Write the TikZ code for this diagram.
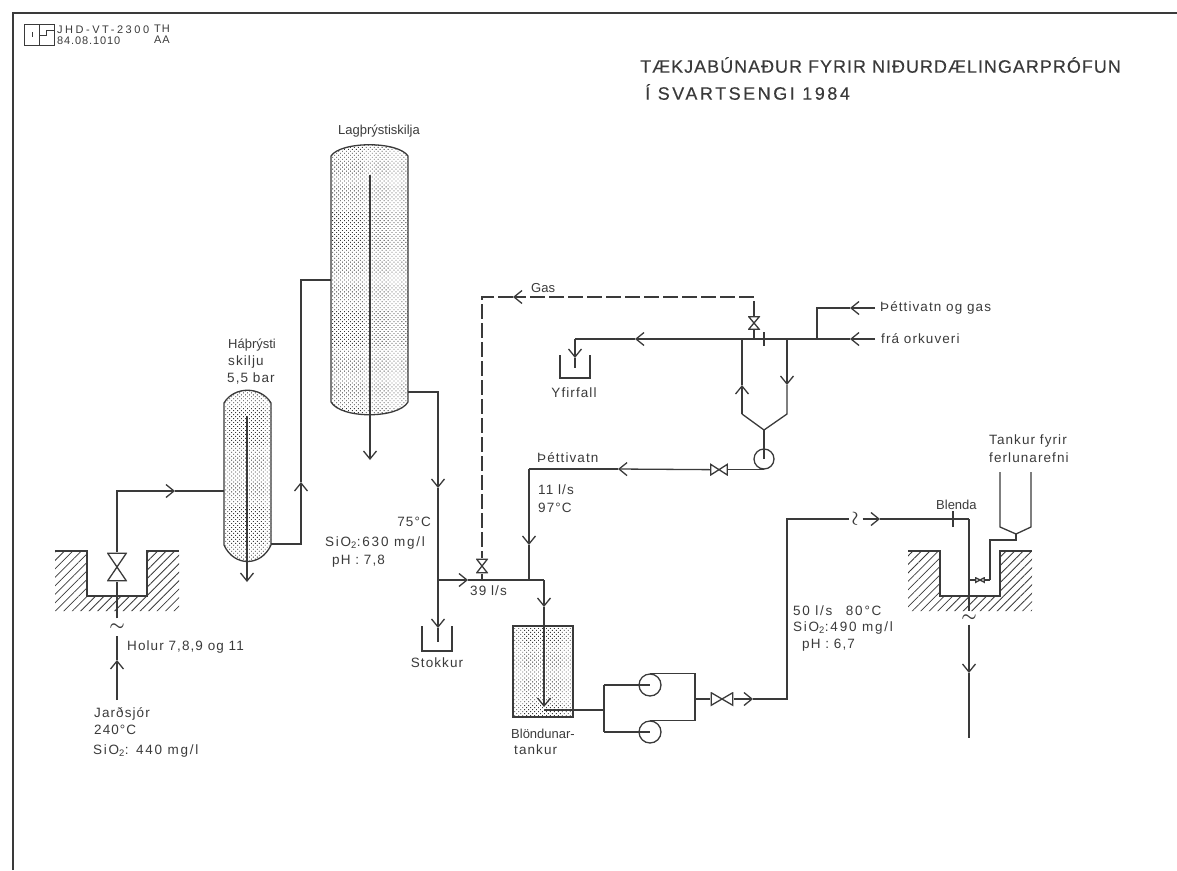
\documentclass[tikz,border=0pt]{standalone}
\usepackage{fontspec}
\setmainfont{Liberation Sans}[LetterSpace=8]
\newfontfamily\headfont{Liberation Sans}[LetterSpace=5.5, FakeBold=0.25]
\newfontfamily\headwide{Liberation Sans}[LetterSpace=14, FakeBold=0.25]
\newfontfamily\tightfont{Liberation Sans}[LetterSpace=0]
\newfontfamily\widefont{Liberation Sans}[LetterSpace=13]
\newfontfamily\stampfont{Liberation Sans}[LetterSpace=23]
\usetikzlibrary{arrows.meta, patterns.meta}
\definecolor{ink}{HTML}{3A3A3A}
\tikzset{
    pipe/.style={draw=ink, line width=1.3pt},
    gasline/.style={pipe, dash pattern=on 15pt off 4pt},
    label/.style={text=ink, inner sep=0pt, anchor=west, font=\fontsize{13.5}{15}\selectfont},
    tightlabel/.style={label, font=\tightfont\fontsize{13}{15}\selectfont},
    widelabel/.style={label, font=\widefont\fontsize{13.5}{15}\selectfont},
    stamptext/.style={label, font=\fontsize{11}{12}\selectfont},
    headline/.style={label, font=\headfont\fontsize{18}{20}\selectfont},
    tildemark/.style={text=ink, inner sep=0pt, minimum size=#1, font=\boldmath\fontsize{17}{17}\selectfont},
    pump/.style={draw=ink, line width=1.3pt, circle, inner sep=0pt, minimum size=#1},
    valvev/.style 2 args={inner sep=0pt, minimum width=#1, minimum height=#2, path picture={
        \draw[ink, line width=1.3pt] ([shift={(.7pt,-.7pt)}]path picture bounding box.north west)
            -- ([shift={(-.7pt,-.7pt)}]path picture bounding box.north east)
            -- ([shift={(.7pt,.7pt)}]path picture bounding box.south west)
            -- ([shift={(-.7pt,.7pt)}]path picture bounding box.south east) -- cycle;}},
    valveh/.style 2 args={inner sep=0pt, minimum width=#1, minimum height=#2, path picture={
        \draw[ink, line width=1.3pt] ([shift={(.7pt,-.7pt)}]path picture bounding box.north west)
            -- ([shift={(.7pt,.7pt)}]path picture bounding box.south west)
            -- ([shift={(-.7pt,-.7pt)}]path picture bounding box.north east)
            -- ([shift={(-.7pt,.7pt)}]path picture bounding box.south east) -- cycle;}},
    >={Straight Barb[length=8pt, width=13pt, line width=1.3pt]}
}
\newcommand{\sitwo}{SiO\textsubscript{2}}
% left, right, shoulder top, shoulder bottom, control top, control bottom
\newcommand{\vessel}[6]{
    \draw[pipe, pattern={Dots[angle=45, distance=2.8pt, radius=.62pt]}, pattern color=ink]
        (#1,#3) .. controls (#1+10,#5) and (#2-10,#5) .. (#2,#3) -- (#2,#4)
        .. controls (#2-10,#6) and (#1+10,#6) .. (#1,#4) -- cycle;
}
\newcommand{\pit}[1]{
    \fill[pattern={Lines[angle=45, distance=6pt, line width=.8pt]}, pattern color=ink]
        (#1,551) -- (#1+32,551) -- (#1+32,596) -- (#1+92,596) -- (#1+92,551) -- (#1+124,551) -- (#1+124,611) -- (#1,611) -- cycle;
    \draw[pipe] (#1,551) -- (#1+32,551) -- (#1+32,596) -- (#1+92,596) -- (#1+92,551) -- (#1+124,551);
}
\newcommand{\trough}[3]{
    \draw[pipe] (#1-15,#2) -- (#1-15,#3) -- (#1+15,#3) -- (#1+15,#2);
}
\begin{document}
\begin{tikzpicture}[x=1pt, y=-1pt]
    \useasboundingbox (0,0) rectangle (1177,870);
    % sheet edge and stamp
    \draw[ink, line width=2.4pt] (13,870) -- (13,13) -- (1177,13);
    \draw[pipe, line width=1pt] (24,24) rectangle (54,45);
    \draw[pipe, line width=1pt] (39,24) -- (39,45) (39,35) -- (46,35) -- (46,30) -- (54,30);
    \draw[pipe, line width=1pt] (32,32) -- (32,37);
    \node[stamptext, font=\stampfont\fontsize{11}{12}\selectfont] (stampA) at (57,30) {JHD-VT-2300};
    \node[stamptext] (stampB) at (57,41) {84.08.1010};
    \node[stamptext] (stampC) at (154,29) {TH};
    \node[stamptext] (stampD) at (154,40) {AA};
    \node[headline] (titleA) at (640,65) {TÆKJABÚNAÐUR FYRIR NIÐURDÆLINGARPRÓFUN};
    \node[headline, font=\headwide\fontsize{18}{20}\selectfont] (titleB) at (645,92) {Í SVARTSENGI 1984};

    % vessels and pits
    \vessel{224}{271}{403}{545}{386}{567}
    \vessel{331}{408}{156}{402}{141}{419}
    \draw[pipe, pattern={Dots[angle=45, distance=2.8pt, radius=.62pt]}, pattern color=ink] (513,626) rectangle (573,717);
    \pit{55}
    \pit{908}
    \trough{437}{626}{651}
    \trough{575}{355}{378}

    % symbols
    \node[valvev={20pt}{29pt}] (valveA) at (117,567) {};
    \node[valvev={12pt}{15pt}] (valveB) at (482,566) {};
    \node[valvev={12pt}{14pt}] (valveC) at (754,323) {};
    \node[pump=20pt] (pumpA) at (764,459) {};
    \node[valveh={18pt}{12pt}] (valveD) at ([xshift=-45pt]pumpA.south) {};
    \node[valveh={23pt}{14pt}] (valveE) at (722,699) {};
    \node[valveh={10pt}{6pt}] (valveF) at (980,580) {};
    \node[pump=22pt] (pumpB) at (650,685) {};
    \node[pump=22pt] (pumpC) at (650,732) {};
    \node[tildemark=17pt] (tildeA) at (117,627) {$\sim$};
    \node[tildemark=13pt] (tildeB) at (856,519) {\rotatebox{90}{$\sim$}};
    \node[tildemark=13pt] (tildeC) at (969,618) {$\sim$};

    % coordinates along the pipes
    \coordinate (wellIn) at (117,700);
    \coordinate (tipA) at (117,660);
    \coordinate (tipB) at (175,491);
    \coordinate (inA) at (224,491);
    \coordinate (dropA) at (247,416);
    \coordinate (dropB) at (247,582);
    \coordinate (outA) at (271,544);
    \coordinate (tipC) at (301,482);
    \coordinate (inB) at (331,280);
    \coordinate (dropC) at (370,175);
    \coordinate (dropD) at (370,460);
    \coordinate (outB) at (408,392);
    \coordinate (tipD) at (438,488);
    \coordinate (forkA) at (438,580);
    \coordinate (tipE) at (438,628);
    \coordinate (endE) at (438,642);
    \coordinate (tipF) at (468,580);
    \coordinate (stemB) at (482,580);
    \coordinate (mixA) at (529,580);
    \coordinate (mixB) at (544,580);
    \coordinate (tipG) at (544,607);
    \coordinate (tipH) at (544,707);
    \coordinate (outC) at (544,710);
    \coordinate (splitA) at (604,710);
    \coordinate (splitB) at (604,685);
    \coordinate (splitC) at (604,732);
    \coordinate (joinC) at (695,699);
    \coordinate (tipI) at (753,699);
    \coordinate (riseA) at (787,699);
    \coordinate (riseB) at (787,519);
    \coordinate (tipJ) at (880,519);
    \coordinate (blendB) at (953,519);
    \coordinate (bendA) at (969,519);
    \coordinate (dropE) at (969,580);
    \coordinate (tipK) at (969,673);
    \coordinate (endK) at (969,738);
    \coordinate (hopA) at (1000,472);
    \coordinate (hopB) at (1000,527);
    \coordinate (hopC) at (1016,534);
    \coordinate (hopD) at (1031,527);
    \coordinate (hopE) at (1031,472);
    \coordinate (hopF) at (1016,540);
    \coordinate (hopG) at (990,580);
    \coordinate (srcA) at (875,308);
    \coordinate (tipL) at (850,308);
    \coordinate (srcB) at (875,339);
    \coordinate (tipM) at (850,339);
    \coordinate (forkB) at (817,339);
    \coordinate (hxA) at (787,339);
    \coordinate (blendA) at (764,339);
    \coordinate (stemC) at (754,339);
    \coordinate (hxB) at (742,339);
    \coordinate (tipN) at (635,339);
    \coordinate (bendB) at (575,339);
    \coordinate (tipO) at (575,358);
    \coordinate (endO) at (575,368);
    \coordinate (tipP) at (787,385);
    \coordinate (tipQ) at (742,385);
    \coordinate (hxC) at (787,414);
    \coordinate (hxD) at (764,430);
    \coordinate (hxE) at (742,414);
    \coordinate (tipR) at (618,469);
    \coordinate (tipS) at (529,545);
    \coordinate (bendC) at (529,469);
    \coordinate (tipT) at (513,297);

    % first separator
    \draw[pipe, ->] (wellIn) -- (tipA);
    \draw[pipe] (tipA) -- (tildeA.south);
    \draw[pipe] (tildeA.north) -- (valveA.south);
    \draw[pipe, ->] (valveA.north) |- (tipB);
    \draw[pipe] (tipB) -- (inA);
    \draw[pipe, ->] (dropA) -- (dropB);
    \draw[pipe, ->] (outA) -| (tipC);
    \draw[pipe] (tipC) |- (inB);

    % second separator
    \draw[pipe, ->] (dropC) -- (dropD);
    \draw[pipe, ->] (outB) -| (tipD);
    \draw[pipe] (tipD) -- (forkA);
    \draw[pipe, ->] (forkA) -- (tipE);
    \draw[pipe] (tipE) -- (endE);
    \draw[pipe, ->] (forkA) -- (tipF);
    \draw[pipe] (tipF) -- (mixB);
    \draw[pipe] (valveB.south) -- (stemB);

    % mixing tank and pumps
    \draw[pipe, ->] (mixB) -- (tipG);
    \draw[pipe, ->] (tipG) -- (tipH);
    \draw[pipe] (outC) -- (splitA);
    \draw[pipe] (splitB) -- (splitC);
    \draw[pipe] (splitB) -- (pumpB.center);
    \draw[pipe] (splitC) -- (pumpC.center);
    \draw[pipe] (pumpB.north) -- (pumpB.north -| joinC) -- (pumpC.north -| joinC) -- (pumpC.north);
    \draw[pipe] (joinC) -- (valveE.west);
    \draw[pipe, ->] (valveE.east) -- (tipI);
    \draw[pipe] (tipI) -- (riseA) -- (riseB) -- (tildeB.west);
    \draw[pipe, ->] (tildeB.east) -- (tipJ);
    \draw[pipe] (tipJ) -- (bendA);
    \draw[pipe] ([yshift=-8pt]blendB) -- ([yshift=8pt]blendB);
    \draw[pipe] (bendA) -- (tildeC.north);
    \draw[pipe, ->] (tildeC.south) -- (tipK);
    \draw[pipe] (tipK) -- (endK);

    % dosing tank
    \draw[pipe] (hopA) -- (hopB) -- (hopC) -- (hopD) -- (hopE);
    \draw[pipe] (hopC) -- (hopF) -| (hopG);
    \draw[pipe] (hopG) -- (valveF.east);
    \draw[pipe] (valveF.west) -- (dropE);

    % condensate line
    \draw[pipe, ->] (srcA) -- (tipL);
    \draw[pipe] (tipL) -| (forkB);
    \draw[pipe, ->] (srcB) -- (tipM);
    \draw[pipe, ->] (tipM) -- (tipN);
    \draw[pipe] (tipN) -- (bendB);
    \draw[pipe, ->] (bendB) -- (tipO);
    \draw[pipe] (tipO) -- (endO);
    \draw[pipe] ([yshift=-7pt]blendA) -- ([yshift=7pt]blendA);
    \draw[pipe] (stemC) -- (valveC.south);
    \draw[pipe, ->] (hxA) -- (tipP);
    \draw[pipe] (tipP) -- (hxC) -- (hxD) -- (hxE);
    \draw[pipe, ->] (hxE) -- (tipQ);
    \draw[pipe] (tipQ) -- (hxB);
    \draw[pipe] (hxD) -- (pumpA.center);
    \draw[pipe] (pumpA.south) -- (valveD.east);
    \draw[pipe, ->] (valveD.west) -- (tipR);
    \draw[pipe] (tipR) -- (bendC);
    \draw[pipe, ->] (bendC) -- (tipS);
    \draw[pipe] (tipS) -- (mixA);

    % gas line
    \draw[gasline, ->] (valveC.north) |- (tipT);
    \draw[gasline] (tipT) -| (valveB.north);

    % texts
    \node[tightlabel] (nameA) at (228,345) {Háþrýsti};
    \node[label] (nameB) at (228,362) {skilju};
    \node[label] (nameC) at (227,378) {5,5 bar};
    \node[tightlabel] (nameD) at (338,131) {Lagþrýstiskilja};
    \node[label] (holes) at (127,647) {Holur 7,8,9 og 11};
    \node[label] (brineA) at (94,714) {Jarðsjór};
    \node[label] (brineB) at (94,730) {240°C};
    \node[widelabel] (brineC) at (93,751) {\sitwo: 440 mg/l};
    \node[label, anchor=east] (mixT) at (431,522) {75°C};
    \node[widelabel] (mixS) at (325,543) {\sitwo:630 mg/l};
    \node[label] (mixP) at (332,561) {pH : 7,8};
    \node[label] (flowA) at (470,591) {39 l/s};
    \node[label, anchor=center] (stock) at (437,663) {Stokkur};
    \node[tightlabel] (gasT) at (531,288) {Gas};
    \node[label, anchor=center] (over) at (574,393) {Yfirfall};
    \node[label] (condA) at (537,458) {Þéttivatn};
    \node[label] (condB) at (538,490) {11 l/s};
    \node[label] (condC) at (538,508) {97°C};
    \node[label] (fromA) at (880,308) {Þéttivatn og gas};
    \node[label] (fromB) at (881,339) {frá orkuveri};
    \node[tightlabel] (tankA) at (511,734) {Blöndunar-};
    \node[label] (tankB) at (514,750) {tankur};
    \node[widelabel] (injA) at (793,611) {50 l/s\quad 80°C};
    \node[widelabel] (injB) at (793,628) {\sitwo:490 mg/l};
    \node[label] (injC) at (802,645) {pH : 6,7};
    \node[tightlabel] (plate) at (936,505) {Blenda};
    \node[label] (doseA) at (989,441) {Tankur fyrir};
    \node[label] (doseB) at (989,458) {ferlunarefni};
\end{tikzpicture}
\end{document}
